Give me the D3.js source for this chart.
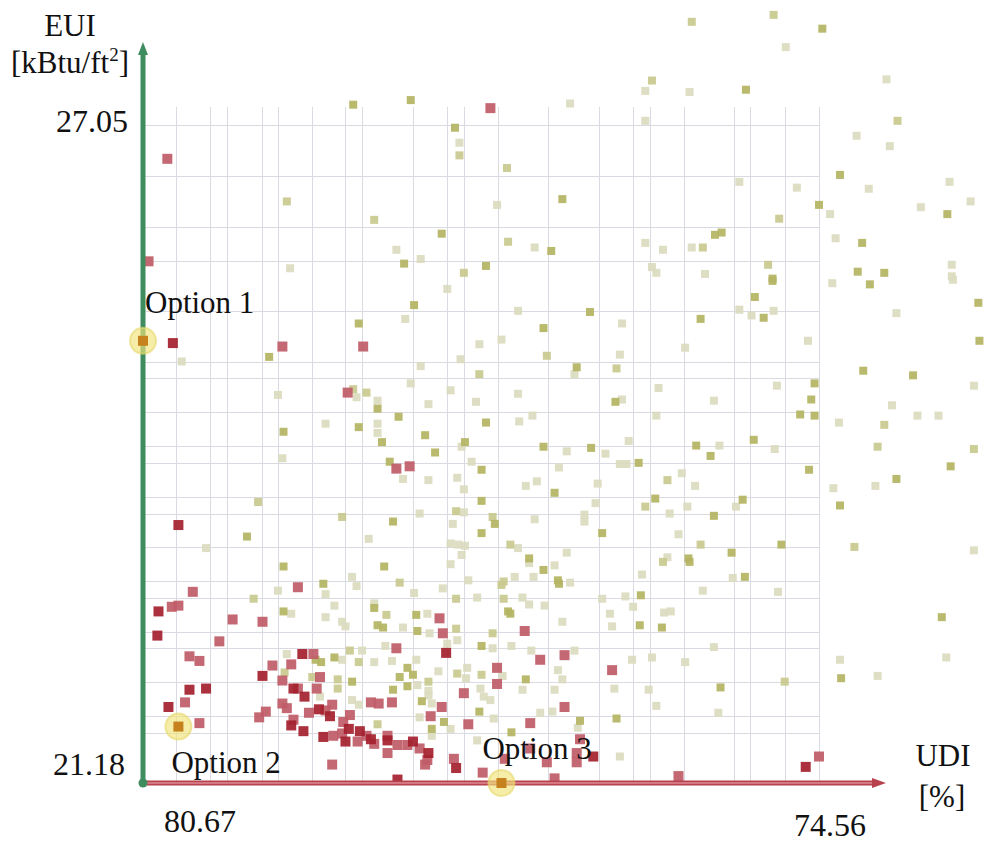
<!DOCTYPE html>
<html>
<head>
<meta charset="utf-8">
<script src="https://cdn.jsdelivr.net/npm/d3@7"></script>
<style>
  body { margin: 0; background: #fff; }
  #chart { width: 985px; height: 842px; }
  text { font-family: "Liberation Serif", "Times New Roman", "DejaVu Serif", serif; fill: #111; }
</style>
</head>
<body>
<div id="chart"></div>
<script>
// each point is [UDI %, EUI kBtu/ft2], grouped by the shade it was drawn with
let darkRed = [
  [80.40, 25.00], [80.35, 23.42], [80.53, 22.67], [80.54, 22.46], [79.59, 22.11], [80.25, 21.99],
  [80.10, 22.00], [80.44, 21.84], [79.33, 21.68], [79.22, 21.63], [79.04, 21.58], [77.93, 22.31],
  [77.84, 21.31], [78.37, 21.21], [76.60, 21.41], [74.68, 21.32], [78.81, 21.65], [78.84, 21.54],
  [78.71, 21.63], [78.61, 21.56], [78.98, 21.76], [78.23, 21.54], [78.09, 21.44], [79.23, 22.30],
  [79.31, 22.00], [79.21, 21.93], [79.08, 21.82], [78.46, 21.55]
];

let lightRed = [
  [80.45, 26.60], [80.62, 25.71], [79.41, 24.97], [78.68, 24.97], [78.82, 24.57], [78.38, 23.91],
  [78.26, 23.93], [77.53, 27.04], [77.99, 22.61], [77.96, 22.48], [77.22, 22.50], [77.08, 22.25],
  [76.86, 22.29], [78.38, 22.35], [77.47, 22.18], [77.47, 22.04], [76.43, 22.16], [77.77, 21.96],
  [77.97, 21.84], [78.42, 21.88], [78.54, 21.87], [78.61, 21.88], [78.96, 21.86], [78.86, 21.71],
  [78.80, 21.77], [78.07, 21.76], [77.73, 21.69], [77.17, 21.70], [76.86, 21.84], [78.65, 21.59],
  [78.73, 21.54], [78.58, 21.52], [78.87, 21.61], [78.95, 21.59], [78.46, 21.59], [78.46, 21.44],
  [78.37, 21.51], [78.28, 21.51], [78.17, 21.48], [78.10, 21.38], [78.12, 21.34], [77.86, 21.39],
  [77.60, 21.27], [77.40, 21.39], [77.17, 21.48], [77.02, 21.36], [76.95, 21.22], [76.75, 21.44],
  [76.75, 21.36], [76.72, 21.56], [78.96, 21.34], [80.22, 22.84], [80.41, 22.71], [80.35, 22.72],
  [79.86, 22.60], [79.59, 22.58], [79.98, 22.41], [80.25, 22.28], [80.16, 22.24], [79.50, 22.20],
  [79.33, 22.21], [79.13, 22.30], [79.41, 22.07], [79.07, 22.10], [79.10, 22.00], [79.27, 22.00],
  [80.29, 21.88], [79.41, 21.87], [79.37, 21.83], [79.62, 21.75], [79.56, 21.80], [79.31, 21.73],
  [79.17, 21.79], [79.02, 21.81], [80.16, 21.70], [79.27, 22.88], [74.56, 21.41], [75.83, 21.24]
];

let olive = [
  [78.77, 27.07], [78.25, 27.11], [77.85, 26.87], [76.88, 26.25], [77.97, 25.95], [76.98, 25.80],
  [78.31, 25.69], [77.57, 25.67], [74.53, 27.73], [75.22, 27.20], [74.37, 26.46], [74.56, 26.20],
  [73.40, 26.12], [75.50, 25.94], [75.44, 25.96], [74.17, 25.87], [74.21, 25.62], [73.97, 25.61],
  [74.98, 25.56], [79.53, 24.88], [79.40, 24.23], [79.73, 23.32], [78.22, 25.33], [78.72, 25.17],
  [76.63, 25.27], [77.05, 25.13], [76.75, 24.79], [78.55, 24.43], [76.40, 24.49], [78.36, 24.36],
  [78.72, 24.27], [77.57, 24.31], [78.51, 24.14], [77.76, 24.14], [78.03, 24.05], [77.05, 24.10],
  [76.62, 24.09], [78.44, 23.97], [77.61, 23.90], [76.19, 23.96], [76.95, 23.70], [77.61, 23.63],
  [76.04, 23.65], [78.41, 23.45], [77.49, 23.43], [76.52, 23.35], [77.61, 23.35], [77.18, 23.13],
  [74.98, 25.54], [75.14, 25.40], [75.06, 25.22], [75.63, 25.21], [74.10, 25.51], [73.12, 25.35],
  [73.11, 25.02], [74.16, 24.76], [73.71, 24.72], [74.60, 24.65], [74.63, 24.51], [74.73, 24.38],
  [74.60, 24.37], [75.67, 24.11], [75.54, 24.02], [75.15, 24.16], [73.37, 23.93], [74.65, 23.90],
  [73.86, 23.82], [74.37, 23.59], [75.25, 23.64], [75.51, 23.50], [75.35, 23.18], [74.90, 23.25],
  [75.74, 23.13], [75.73, 23.10], [75.23, 22.97], [75.98, 22.53], [75.45, 22.01], [73.45, 22.62],
  [74.36, 22.09], [78.49, 23.06], [76.92, 22.94], [76.91, 22.91], [76.17, 22.81], [78.58, 22.70],
  [78.20, 22.64], [77.37, 22.67], [77.35, 22.65], [76.18, 22.55], [78.55, 22.55], [78.50, 22.53],
  [78.19, 22.50], [77.61, 22.37], [78.94, 22.27], [77.21, 22.08], [78.78, 22.06], [78.35, 22.10],
  [78.28, 22.18], [78.23, 22.12], [78.28, 22.02], [78.41, 21.99], [78.15, 21.89], [77.95, 21.71],
  [77.63, 21.80], [76.72, 21.72], [76.39, 21.74], [78.06, 21.65], [77.34, 21.62], [79.40, 23.06],
  [79.04, 22.91], [79.40, 22.67], [79.11, 22.25], [79.06, 22.23], [78.12, 24.20], [77.05, 23.03]
];

let oliveLight = [
  [79.37, 26.23], [76.07, 27.28], [77.81, 26.63], [77.38, 26.52], [78.58, 26.07], [77.37, 25.88],
  [77.77, 25.61], [75.71, 27.79], [74.97, 27.85], [73.85, 26.93], [74.92, 26.08], [75.61, 25.83],
  [75.02, 25.68], [79.63, 23.62], [77.02, 24.89], [77.63, 24.73], [76.39, 24.78], [76.13, 23.58],
  [78.87, 23.49], [77.84, 23.54], [77.51, 23.49], [77.35, 23.25], [74.03, 24.10], [73.16, 24.08],
  [75.93, 23.81], [75.63, 23.25], [74.24, 23.23], [75.97, 23.10], [74.87, 22.06], [78.35, 22.92],
  [77.43, 22.90], [77.41, 22.93], [77.84, 22.78], [77.41, 22.78], [78.47, 22.64], [77.84, 22.52],
  [77.51, 22.48], [78.80, 22.33], [78.72, 22.23], [77.83, 22.13], [77.61, 22.12], [78.91, 22.08],
  [78.91, 22.00], [78.09, 22.06], [78.55, 21.69], [73.97, 24.29], [79.67, 22.78], [79.39, 22.14],
  [79.14, 22.10], [78.65, 24.57], [78.77, 24.60]
];

let pale = [
  [79.34, 25.65], [76.81, 27.08], [76.13, 27.19], [76.13, 26.93], [77.81, 26.74], [77.47, 26.20],
  [78.38, 25.81], [78.16, 25.73], [77.13, 25.83], [76.13, 25.87], [76.07, 25.66], [76.03, 25.61],
  [74.86, 27.57], [73.95, 27.29], [75.73, 27.18], [74.22, 26.80], [73.92, 26.71], [74.11, 26.34],
  [75.28, 26.40], [74.76, 26.35], [73.38, 26.40], [74.46, 26.12], [73.64, 26.18], [73.19, 26.23],
  [75.71, 25.83], [75.97, 25.81], [74.41, 25.91], [73.36, 25.68], [73.36, 25.58], [75.59, 25.60],
  [80.32, 24.84], [79.45, 24.55], [79.02, 24.30], [79.41, 24.00], [80.10, 23.22], [77.92, 25.47],
  [78.30, 25.21], [77.28, 25.28], [76.34, 25.17], [77.43, 25.03], [77.63, 24.99], [76.36, 24.90],
  [77.80, 24.86], [78.16, 24.80], [76.77, 24.73], [78.25, 24.65], [78.74, 24.53], [78.55, 24.50],
  [77.89, 24.59], [77.28, 24.56], [78.09, 24.47], [77.66, 24.49], [76.34, 24.51], [78.55, 24.30],
  [78.55, 24.22], [77.27, 24.32], [77.15, 24.37], [76.03, 24.37], [76.01, 24.61], [77.79, 24.10],
  [76.84, 24.06], [76.49, 24.04], [76.28, 24.15], [78.32, 23.82], [78.09, 23.81], [77.70, 23.97],
  [76.91, 23.92], [76.36, 23.95], [76.30, 23.95], [77.83, 23.83], [77.77, 23.73], [77.21, 23.76],
  [77.11, 23.80], [76.56, 23.78], [76.58, 23.61], [78.17, 23.52], [77.77, 23.53], [77.87, 23.43],
  [77.13, 23.47], [76.68, 23.51], [76.68, 23.45], [78.63, 23.30], [77.89, 23.26], [77.82, 23.25],
  [77.76, 23.24], [77.28, 23.22], [76.84, 23.18], [77.79, 23.16], [74.44, 25.52], [73.35, 25.55],
  [73.86, 25.26], [75.28, 25.29], [75.17, 25.24], [74.97, 25.28], [75.77, 24.96], [74.66, 25.02],
  [74.94, 24.63], [75.51, 24.50], [73.90, 24.46], [74.38, 24.31], [73.67, 24.37], [73.48, 24.37],
  [73.16, 24.63], [75.46, 24.11], [74.96, 24.08], [75.80, 23.87], [75.68, 23.76], [74.43, 23.74],
  [74.05, 23.76], [75.31, 23.58], [75.75, 23.58], [75.91, 23.52], [75.83, 23.34], [73.16, 23.20],
  [75.93, 23.14], [75.34, 22.96], [75.61, 22.85], [74.93, 22.84], [75.96, 22.66], [75.90, 22.67],
  [75.51, 22.36], [75.77, 22.23], [75.47, 21.79], [73.41, 22.27], [74.37, 22.25], [74.03, 22.11],
  [77.89, 23.08], [77.18, 23.09], [76.95, 23.07], [76.81, 22.92], [77.31, 22.97], [77.14, 22.97],
  [77.73, 22.94], [78.78, 22.97], [78.74, 22.89], [78.22, 22.83], [77.96, 22.87], [77.65, 22.79],
  [77.24, 22.79], [77.18, 22.73], [77.04, 22.72], [76.52, 22.78], [76.31, 22.80], [76.24, 22.71],
  [76.16, 22.99], [78.94, 22.72], [78.58, 22.74], [78.10, 22.65], [76.88, 22.58], [76.45, 22.65],
  [76.43, 22.54], [78.87, 22.58], [78.84, 22.54], [78.32, 22.53], [78.08, 22.48], [77.83, 22.42],
  [77.92, 22.39], [77.51, 22.35], [77.34, 22.37], [77.16, 22.33], [76.77, 22.33], [78.48, 22.37],
  [78.87, 22.25], [78.69, 22.33], [78.58, 22.23], [78.42, 22.24], [78.20, 22.25], [78.00, 22.15],
  [77.74, 22.18], [77.42, 22.11], [77.24, 21.99], [76.92, 22.16], [76.88, 22.08], [76.95, 21.99],
  [76.41, 22.00], [76.10, 21.99], [76.03, 21.85], [76.25, 22.25], [76.07, 22.27], [78.19, 22.03],
  [78.09, 21.98], [78.09, 21.94], [77.75, 22.09], [77.62, 22.00], [77.59, 21.93], [77.53, 21.90],
  [78.06, 21.87], [78.78, 21.90], [78.72, 21.86], [78.17, 21.75], [77.50, 21.74], [77.08, 21.79],
  [76.97, 21.80], [76.74, 21.66], [78.06, 21.59], [77.89, 21.65], [77.65, 21.55], [76.36, 21.41],
  [79.02, 22.82], [79.45, 22.85], [79.33, 22.65], [79.02, 22.62], [79.37, 22.30], [79.07, 21.93]
];

let optionNames = ["Option 1", "Option 2", "Option 3"];
let optionUdi = [80.67, 80.35, 77.43];
let optionEui = [25.02, 21.67, 21.18];

let udiEnds = [80.67, 74.56];
let euiEnds = [21.18, 27.05];

let gridUdi = [80.37, 80.06, 79.91, 79.59, 79.45, 79.14, 78.84, 78.69, 78.23, 77.92, 77.77,
  77.46, 77.01, 76.55, 76.24, 76.09, 75.78, 75.33, 75.18, 74.87, 74.56];
let gridEui = [26.89, 26.45, 26.01, 25.71, 25.28, 24.84, 24.70, 24.40, 24.11, 23.96, 23.66,
  23.52, 23.23, 22.93, 22.79, 22.49, 22.35, 22.06, 21.76, 21.61];

let width = 985;
let height = 842;
let fontSize = 31;

let x = d3.scaleLinear().domain(udiEnds).range([143, 819]);
let y = d3.scaleLinear().domain(euiEnds).range([783, 107]);

let svg = d3.select("#chart").append("svg")
  .attr("width", width)
  .attr("height", height);

svg.append("rect")
  .attr("width", width)
  .attr("height", height)
  .attr("fill", "#fff");

// grid
let grid = svg.append("g").attr("class", "grid")
  .attr("stroke", "#dadae2")
  .attr("stroke-width", 1);

grid.selectAll(".vline")
  .data(gridUdi)
  .enter()
  .append("line")
  .attr("class", "vline")
  .attr("x1", function (d) { return Math.round(x(d)) + 0.5; })
  .attr("x2", function (d) { return Math.round(x(d)) + 0.5; })
  .attr("y1", y(euiEnds[1]))
  .attr("y2", y(euiEnds[0]));

grid.selectAll(".hline")
  .data(gridEui)
  .enter()
  .append("line")
  .attr("class", "hline")
  .attr("y1", function (d) { return Math.round(y(d)) + 0.5; })
  .attr("y2", function (d) { return Math.round(y(d)) + 0.5; })
  .attr("x1", x(udiEnds[0]))
  .attr("x2", x(udiEnds[1]));

// points, lightest first so the reds sit on top
let series = [
  { data: pale, color: "#dbdbbf", size: 8 },
  { data: oliveLight, color: "#c9c98f", size: 8 },
  { data: olive, color: "#b4b463", size: 8 },
  { data: lightRed, color: "#bf5c67", size: 10 },
  { data: darkRed, color: "#a3202c", size: 10 }
];

series.forEach(function (s) {
  svg.append("g")
    .selectAll("rect")
    .data(s.data)
    .enter()
    .append("rect")
    .attr("x", function (d) { return x(d[0]) - s.size / 2; })
    .attr("y", function (d) { return y(d[1]) - s.size / 2; })
    .attr("width", s.size)
    .attr("height", s.size)
    .attr("fill", s.color)
    .attr("opacity", 0.92);
});

// axes
let axisTop = y(euiEnds[1]) - 65;
let axisRight = x(udiEnds[1]) + 67;
let ox = x(udiEnds[0]);
let oy = y(euiEnds[0]);

svg.append("line")
  .attr("x1", ox).attr("x2", ox)
  .attr("y1", oy).attr("y2", axisTop + 10)
  .attr("stroke", "#3f8d5f")
  .attr("stroke-width", 5);

svg.append("path")
  .attr("d", `M${ox},${axisTop} L${ox - 5},${axisTop + 13} L${ox + 5},${axisTop + 13} Z`)
  .attr("fill", "#3f8d5f");

svg.append("line")
  .attr("x1", ox).attr("x2", axisRight - 10)
  .attr("y1", oy).attr("y2", oy)
  .attr("stroke", "#b8434f")
  .attr("stroke-width", 5);

svg.append("line")
  .attr("x1", ox).attr("x2", axisRight - 10)
  .attr("y1", oy).attr("y2", oy)
  .attr("stroke", "#dc8a93")
  .attr("stroke-width", 1.5);

svg.append("path")
  .attr("d", `M${axisRight},${oy} L${axisRight - 14},${oy - 5} L${axisRight - 14},${oy + 5} Z`)
  .attr("fill", "#b8434f");

svg.append("circle")
  .attr("cx", ox)
  .attr("cy", oy)
  .attr("r", 4.5)
  .attr("fill", "#3f8d5f");

// highlighted options
let opts = optionNames.map(function (name, i) {
  return { name: name, udi: optionUdi[i], eui: optionEui[i] };
});
let labelOffsets = [[2, -28], [-7, 46], [-19, -24]];

let opt = svg.append("g")
  .selectAll("g")
  .data(opts)
  .enter()
  .append("g")
  .attr("transform", function (d) {
    return `translate(${x(d.udi)}, ${y(d.eui)})`;
  });

opt.append("circle")
  .attr("r", 13)
  .attr("fill", "#efe47a")
  .attr("fill-opacity", 0.65)
  .attr("stroke", "#e6d86a")
  .attr("stroke-opacity", 0.6)
  .attr("stroke-width", 2);

opt.append("rect")
  .attr("x", -5)
  .attr("y", -5)
  .attr("width", 10)
  .attr("height", 10)
  .attr("fill", "#c6821c");

opt.append("text")
  .attr("x", function (d, i) { return labelOffsets[i][0]; })
  .attr("y", function (d, i) { return labelOffsets[i][1]; })
  .attr("font-size", fontSize)
  .text(function (d) { return d.name; });

// axis end values and titles
svg.append("text")
  .attr("x", ox - 15)
  .attr("y", y(euiEnds[1]) + 25)
  .attr("text-anchor", "end")
  .attr("font-size", 32)
  .text(euiEnds[1].toFixed(2));

svg.append("text")
  .attr("x", ox - 18)
  .attr("y", oy - 8)
  .attr("text-anchor", "end")
  .attr("font-size", 32)
  .text(euiEnds[0].toFixed(2));

svg.append("text")
  .attr("x", ox + 57)
  .attr("y", oy + 49)
  .attr("text-anchor", "middle")
  .attr("font-size", 32)
  .text(udiEnds[0].toFixed(2));

svg.append("text")
  .attr("x", x(udiEnds[1]) + 11)
  .attr("y", oy + 53)
  .attr("text-anchor", "middle")
  .attr("font-size", 32)
  .text(udiEnds[1].toFixed(2));

svg.append("text")
  .attr("x", 70)
  .attr("y", 36)
  .attr("text-anchor", "middle")
  .attr("font-size", fontSize)
  .text("EUI");

let unit = svg.append("text")
  .attr("x", 70)
  .attr("y", 73)
  .attr("text-anchor", "middle")
  .attr("font-size", fontSize);
unit.append("tspan").text("[kBtu/ft");
unit.append("tspan").attr("font-size", 19).attr("dy", -12).text("2");
unit.append("tspan").attr("dy", 12).text("]");

svg.append("text")
  .attr("x", 943)
  .attr("y", 766)
  .attr("text-anchor", "middle")
  .attr("font-size", fontSize)
  .text("UDI");

svg.append("text")
  .attr("x", 942)
  .attr("y", 807)
  .attr("text-anchor", "middle")
  .attr("font-size", fontSize)
  .text("[%]");
</script>
</body>
</html>
